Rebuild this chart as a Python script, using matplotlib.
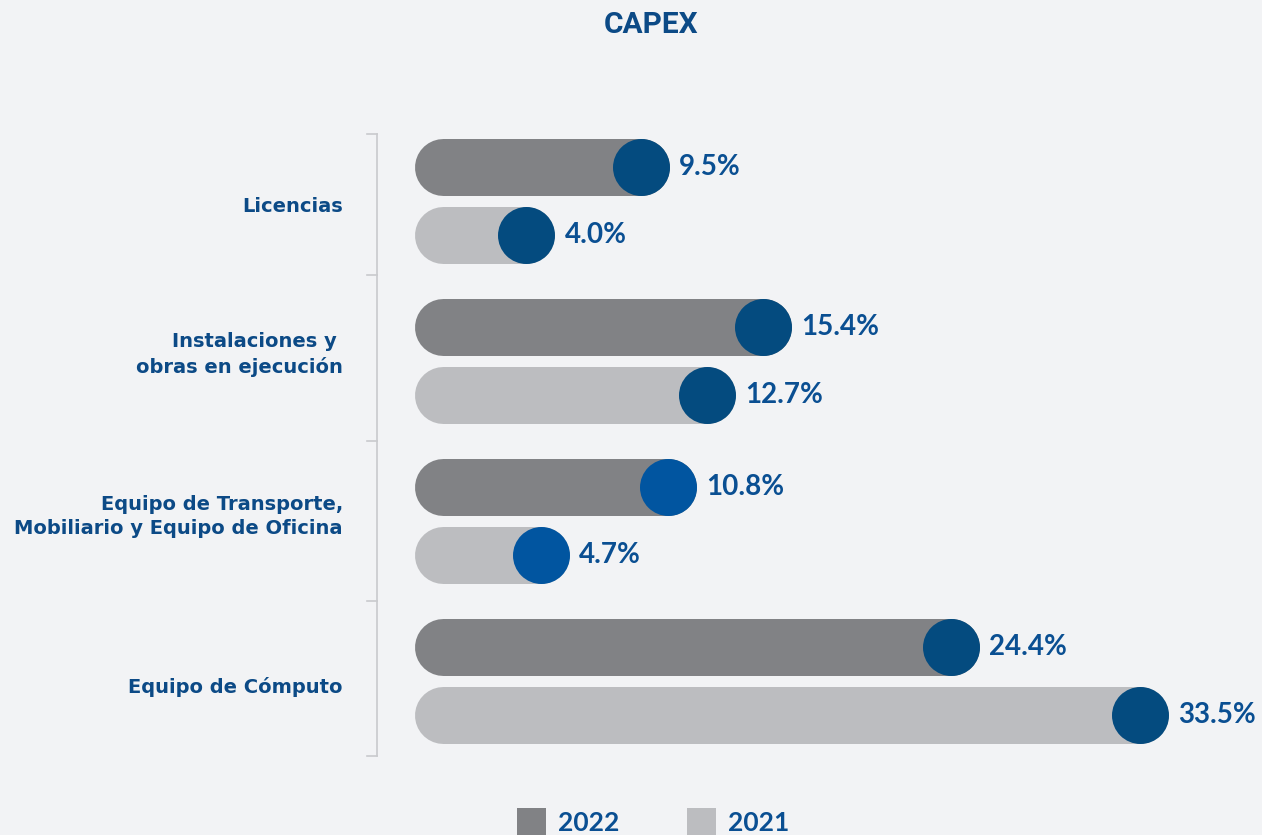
import matplotlib
matplotlib.use("Agg")
import matplotlib.pyplot as plt
from matplotlib.patches import Rectangle

# ---- data ----
categories = ["Licencias", "Instalaciones y \nobras en ejecución",
              "Equipo de Transporte,\nMobiliario y Equipo de Oficina", "Equipo de Cómputo"]
values_2022 = [9.5, 15.4, 10.8, 24.4]
values_2021 = [4.0, 12.7, 4.7, 33.5]
labels_2022 = ["9.5%", "15.4%", "10.8%", "24.4%"]
labels_2021 = ["4.0%", "12.7%", "4.7%", "33.5%"]
series_names = ["2022", "2021"]
title = "CAPEX"

# ---- style ----
BG = "#F2F3F5"
C2022 = "#818285"
C2021 = "#BCBDC0"
DOT = "#044B7F"
DOT_ALT = "#0155A0"
TXT = "#0C4A86"
PCT = "#0A4F92"
dot_colors = [DOT, DOT, DOT_ALT, DOT]
label_dy = [0.035, -0.04, -0.03, 0.035]

W, H, DPI = 1262, 835, 100
fig = plt.figure(figsize=(W / DPI, H / DPI), dpi=DPI, facecolor=BG)
ax = fig.add_axes([0, 0, 1, 1])
ax.set_facecolor(BG)
ax.axis("off")

x0_px, px_per_unit = 443, 20.8
y0_px, px_per_group = 201, 160
ax.set_xlim(-x0_px / px_per_unit, (W - x0_px) / px_per_unit)
ax.set_ylim((H - y0_px) / px_per_group, -y0_px / px_per_group)

bar_px = 57
lw = bar_px * 72 / DPI
off = 34 / px_per_group

for i, cat in enumerate(categories):
    for v, lab, col, dy in [(values_2022[i], labels_2022[i], C2022, -off),
                            (values_2021[i], labels_2021[i], C2021, off)]:
        y = i + dy
        ax.plot([0, v], [y, y], color=col, lw=lw, solid_capstyle="round", zorder=2)
        ax.plot([v], [y], marker="o", markersize=lw, color=dot_colors[i],
                markeredgewidth=0, zorder=3)
        ax.annotate(lab, (v, y), xytext=(lw / 2 + 7, 0), textcoords="offset points",
                    ha="left", va="center", fontsize=20, fontweight="bold",
                    family="Lato", color=PCT, zorder=4)
    ax.text((343 - x0_px) / px_per_unit, i + label_dy[i], cat,
            ha="right", va="center", multialignment="right", fontsize=14,
            fontweight="bold", family="DejaVu Sans", color=TXT, linespacing=1.35)

# bracket
bx = (377 - x0_px) / px_per_unit
tx = (367 - x0_px) / px_per_unit
top, bot = -0.42, 3.47
bcol = "#C9CACD"
ax.plot([bx, bx], [top, bot], color=bcol, lw=1.2, zorder=1)
for yb in [top, 0.46, 1.5, 2.5, bot]:
    ax.plot([tx, bx], [yb, yb], color=bcol, lw=1.2, zorder=1)

# title
fig.text(651 / W, 1 - 25 / H, title, ha="center", va="center", fontsize=21.5,
         fontweight="bold", family="Roboto", color=TXT)

# legend
for xs, xt, col, name in [(517, 558, C2022, series_names[0]), (687, 728, C2021, series_names[1])]:
    fig.add_artist(Rectangle((xs / W, 0), 29 / W, 27 / H, transform=fig.transFigure,
                             facecolor=col, edgecolor="none"))
    fig.text(xt / W, 1 - 823 / H, name, ha="left", va="center", fontsize=19,
             fontweight="bold", family="Lato", color=PCT)

fig.savefig("out.png", dpi=DPI, facecolor=BG)
